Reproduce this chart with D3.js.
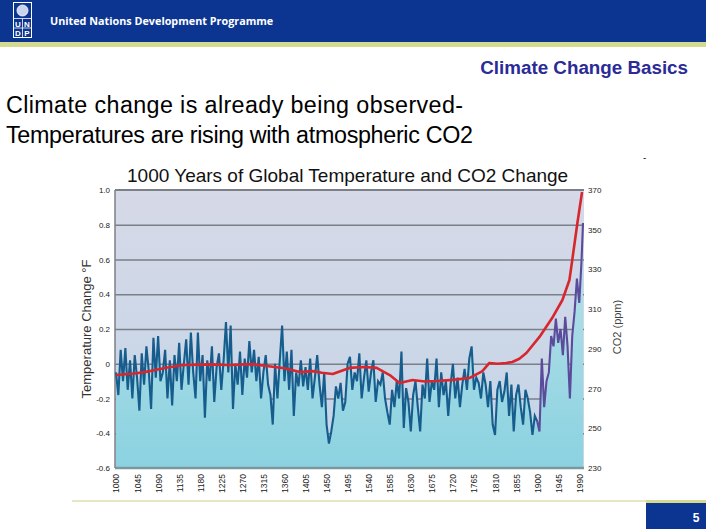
<!DOCTYPE html>
<html>
<head>
<meta charset="utf-8">
<script src="https://cdn.jsdelivr.net/npm/d3@7"></script>
<style>
  html, body { margin: 0; padding: 0; background: #ffffff; }
  svg { display: block; }
  text { font-family: "Liberation Sans", Arial, sans-serif; }
</style>
</head>
<body>
<svg id="chart" width="706" height="529"></svg>
<script>
// ---------------- DATA ----------------
const chartTitle = "1000 Years of Global Temperature and CO2 Change";
const tempTickValues = [1.0, 0.8, 0.6, 0.4, 0.2, 0, -0.2, -0.4, -0.6];
const tempTickLabels = ["1.0", "0.8", "0.6", "0.4", "0.2", "0", "-0.2", "-0.4", "-0.6"];
const gridValues = [0.8, 0.6, 0.4, 0.2, 0, -0.2, -0.4];
const co2TickValues = [370, 350, 330, 310, 290, 270, 250, 230];
const yearTickValues = [1000, 1045, 1090, 1135, 1180, 1225, 1270, 1315, 1360, 1405, 1450, 1495,
                        1540, 1585, 1630, 1675, 1720, 1765, 1810, 1855, 1900, 1945, 1990];

// proxy (reconstructed) temperature, every 5 years 1000..1900
const proxyTemp = [
  -0.05,-0.18,0.08,-0.1,0.09,-0.15,0.02,-0.2,0.05,-0.08,
  -0.27,0.06,-0.12,0.1,-0.04,-0.26,0.15,-0.08,0.16,-0.1,
  -0.05,0.08,-0.2,0.02,-0.24,0.05,-0.1,0.12,-0.15,0.0,
  0.14,-0.12,0.18,-0.05,-0.2,0.18,-0.1,0.05,-0.31,0.02,
  -0.1,0.1,-0.22,-0.02,0.06,-0.15,0.02,0.24,-0.05,0.22,
  -0.26,0.0,-0.12,0.07,-0.18,0.03,-0.08,0.13,-0.05,0.08,
  -0.1,0.04,-0.2,-0.05,0.05,-0.12,-0.18,-0.35,0.0,-0.2,
  0.02,0.22,-0.1,0.07,-0.15,0.08,-0.3,-0.05,-0.13,0.02,
  -0.13,-0.02,-0.15,0.03,-0.2,-0.08,0.05,-0.12,-0.25,-0.05,
  -0.35,-0.46,-0.39,-0.3,-0.13,-0.2,-0.11,-0.27,-0.22,0.0,
  0.04,-0.15,-0.05,-0.1,0.06,-0.2,-0.08,0.02,-0.16,-0.05,
  0.02,-0.22,-0.1,-0.12,-0.05,-0.2,-0.28,-0.35,-0.15,-0.25,
  -0.1,-0.2,0.07,-0.37,-0.14,-0.22,-0.39,-0.18,-0.1,-0.25,
  -0.39,-0.12,-0.2,0.03,-0.22,-0.1,-0.15,0.03,-0.25,-0.05,
  -0.18,-0.1,-0.3,-0.12,0.0,-0.2,-0.08,-0.25,-0.12,-0.03,
  -0.15,0.03,0.1,-0.15,-0.08,-0.11,-0.2,-0.05,-0.12,-0.25,
  -0.1,-0.35,-0.41,-0.15,-0.1,-0.22,-0.16,-0.05,-0.3,-0.12,
  -0.39,-0.18,-0.12,-0.25,-0.35,-0.15,-0.2,-0.28,-0.41,-0.3,
  -0.33
];
const proxyYears = d3.range(1000, 1901, 5);

// instrumental temperature
const instrYears = [1900,1905,1910,1915,1920,1925,1930,1935,1940,1945,1950,1955,1960,1965,1970,1975,1980,1985,1990,1995,1998];
const instrTemp  = [-0.33,-0.39,0.03,-0.25,-0.1,-0.05,0.16,0.1,0.26,0.12,0.2,0.05,0.27,0.1,-0.2,0.16,0.3,0.49,0.35,0.6,0.81];

// CO2 (ppm)
const co2Years = [1000,1040,1073,1110,1143,1200,1243,1290,1322,1360,1393,1420,1440,1463,1499,1530,1557,1585,1606,1634,1660,1685,1720,1755,1783,1798,1815,1834,1847,1862,1877,1905,1932,1954,1969,1975,1986,1996];
const co2Values = [276.8,277.6,278.8,280.6,281.9,282.2,281.9,282.3,281.4,280.2,278.3,278.8,278.0,277.3,280.4,280.9,280.4,276.8,272.8,274.3,273.6,273.8,274.4,275.3,278.8,282.9,282.5,282.9,283.4,285.0,287.9,296,305.5,314.6,324.7,334.7,353.4,369];

// ---------------- DRAW ----------------
const svg = d3.select("#chart");
const W = 706, H = 529;
const plot = { left: 115, right: 584, top: 190, bottom: 468 };

const defs = svg.append("defs");
const bgGrad = defs.append("linearGradient").attr("id", "bgGrad").attr("x1", 0).attr("y1", 0).attr("x2", 0).attr("y2", 1);
bgGrad.append("stop").attr("offset", "0%").attr("stop-color", "#d6d9e7");
bgGrad.append("stop").attr("offset", "100%").attr("stop-color", "#c3d5e7");
const fillGrad = defs.append("linearGradient").attr("id", "fillGrad")
  .attr("gradientUnits", "userSpaceOnUse").attr("x1", 0).attr("y1", plot.top).attr("x2", 0).attr("y2", plot.bottom);
fillGrad.append("stop").attr("offset", "0%").attr("stop-color", "#c2e3ec");
fillGrad.append("stop").attr("offset", "100%").attr("stop-color", "#8bd2e0");

// header
svg.append("rect").attr("x", 0).attr("y", 0).attr("width", W).attr("height", 42).attr("fill", "#0c3592");
svg.append("rect").attr("x", 0).attr("y", 42).attr("width", W).attr("height", 5).attr("fill", "#d6da8e");
const logo = svg.append("g");
logo.append("rect").attr("x", 13.5).attr("y", 2.5).attr("width", 18).attr("height", 35)
  .attr("fill", "none").attr("stroke", "#ffffff").attr("stroke-width", 1);
logo.append("circle").attr("cx", 22.5).attr("cy", 10.5).attr("r", 5.5).attr("fill", "#c9d4ee").attr("stroke", "#ffffff").attr("stroke-width", 0.8);
logo.append("line").attr("x1", 13.5).attr("x2", 31.5).attr("y1", 18.5).attr("y2", 18.5).attr("stroke", "#fff").attr("stroke-width", 0.8);
logo.append("line").attr("x1", 13.5).attr("x2", 31.5).attr("y1", 28).attr("y2", 28).attr("stroke", "#fff").attr("stroke-width", 0.8);
logo.append("line").attr("x1", 22.5).attr("x2", 22.5).attr("y1", 18.5).attr("y2", 37.5).attr("stroke", "#fff").attr("stroke-width", 0.8);
[["U", 18, 26.5], ["N", 27, 26.5], ["D", 18, 36], ["P", 27, 36]].forEach(d => {
  logo.append("text").attr("x", d[1]).attr("y", d[2]).attr("text-anchor", "middle")
    .attr("font-size", 8).attr("font-weight", "bold").attr("fill", "#ffffff").text(d[0]);
});
svg.append("text").attr("x", 50).attr("y", 25).attr("font-size", 10.8).attr("font-weight", "bold")
  .style("font-family", "'Open Sans', 'DejaVu Sans', sans-serif")
  .attr("fill", "#ffffff").text("United Nations Development Programme");

// slide texts
svg.append("text").attr("x", 688).attr("y", 74).attr("text-anchor", "end")
  .attr("font-size", 18.8).attr("font-weight", "bold").attr("fill", "#2b2b98").text("Climate Change Basics");
svg.append("text").attr("x", 6).attr("y", 113).attr("font-size", 23.3).attr("fill", "#000")
  .attr("textLength", 457).attr("lengthAdjust", "spacing").text("Climate change is already being observed-");
svg.append("text").attr("x", 6).attr("y", 143).attr("font-size", 23.3).attr("fill", "#000")
  .attr("textLength", 467).attr("lengthAdjust", "spacing").text("Temperatures are rising with atmospheric CO2");
svg.append("text").attr("x", 643).attr("y", 161).attr("font-size", 10).attr("fill", "#333").text("-");

// footer
svg.append("rect").attr("x", 72).attr("y", 500).attr("width", 574).attr("height", 2).attr("fill", "#e6e8c4");
svg.append("rect").attr("x", 646).attr("y", 500).attr("width", 60).attr("height", 3).attr("fill", "#d6da8e");
svg.append("rect").attr("x", 646).attr("y", 503).attr("width", 60).attr("height", 26).attr("fill", "#0c3592");
svg.append("text").attr("x", 696).attr("y", 522).attr("text-anchor", "middle").attr("font-size", 12)
  .attr("font-weight", "bold").attr("fill", "#ffffff").text("5");

// scales
const x = d3.scaleLinear().domain([1000, 1998]).range([116, 583]);
const yT = d3.scaleLinear().domain([-0.6, 1.0]).range([plot.bottom, plot.top]);
const yC = d3.scaleLinear().domain([230, 370]).range([plot.bottom, plot.top]);

// chart title
svg.append("text").attr("x", 127).attr("y", 181.5).attr("font-size", 19).attr("fill", "#111").text(chartTitle);

// plot background
svg.append("rect").attr("x", plot.left).attr("y", plot.top).attr("width", plot.right - plot.left)
  .attr("height", plot.bottom - plot.top).attr("fill", "url(#bgGrad)");

// gridlines
const grid = svg.append("g").attr("transform", `translate(${plot.left},0)`)
  .call(d3.axisLeft(yT).tickValues(gridValues).tickSize(-(plot.right - plot.left)).tickFormat(""));
grid.select(".domain").remove();
grid.selectAll("line").attr("stroke", "#7b7f88").attr("stroke-width", 1.6);

// temperature area fill
const allYears = proxyYears.concat(instrYears.slice(1));
const allTemp = proxyTemp.concat(instrTemp.slice(1));
const tempPts = allYears.map((yr, i) => [yr, allTemp[i]]);
svg.append("path").datum(tempPts)
  .attr("d", d3.area().x(d => x(d[0])).y0(plot.bottom).y1(d => yT(d[1])))
  .attr("fill", "url(#fillGrad)");

// borders
svg.append("line").attr("x1", plot.left).attr("x2", plot.right).attr("y1", plot.top).attr("y2", plot.top)
  .attr("stroke", "#7b7f88").attr("stroke-width", 2);
svg.append("line").attr("x1", plot.left).attr("x2", plot.right).attr("y1", plot.bottom).attr("y2", plot.bottom)
  .attr("stroke", "#7c979e").attr("stroke-width", 2.5);
svg.append("line").attr("x1", plot.left).attr("x2", plot.left).attr("y1", plot.top).attr("y2", plot.bottom)
  .attr("stroke", "#7b7f88").attr("stroke-width", 1.5);

// temperature lines
const tLine = d3.line().x(d => x(d[0])).y(d => yT(d[1]));
svg.append("path").datum(proxyYears.map((yr, i) => [yr, proxyTemp[i]]))
  .attr("d", tLine).attr("fill", "none").attr("stroke", "#165d8d").attr("stroke-width", 2.1);
svg.append("path").datum(instrYears.map((yr, i) => [yr, instrTemp[i]]))
  .attr("d", tLine).attr("fill", "none").attr("stroke", "#5a4b9b").attr("stroke-width", 2.1);

// CO2 line
svg.append("path").datum(co2Years.map((yr, i) => [yr, co2Values[i]]))
  .attr("d", d3.line().x(d => x(d[0])).y(d => yC(d[1])))
  .attr("fill", "none").attr("stroke", "#d8262e").attr("stroke-width", 2.6).attr("stroke-linejoin", "round");

// axes
const leftAxis = svg.append("g").attr("transform", `translate(${plot.left},0)`)
  .call(d3.axisLeft(yT).tickValues(tempTickValues).tickSize(0).tickPadding(5)
    .tickFormat((d, i) => tempTickLabels[i]));
leftAxis.select(".domain").remove();
leftAxis.selectAll("text").attr("font-size", 8).attr("fill", "#222").style("font-family", "'Liberation Sans', Arial, sans-serif");

const rightAxis = svg.append("g").attr("transform", `translate(${plot.right},0)`)
  .call(d3.axisRight(yC).tickValues(co2TickValues).tickSize(0).tickPadding(4));
rightAxis.select(".domain").remove();
rightAxis.selectAll("text").attr("font-size", 8).attr("fill", "#222").style("font-family", "'Liberation Sans', Arial, sans-serif");

const bottomAxis = svg.append("g").attr("transform", `translate(0,${plot.bottom})`)
  .call(d3.axisBottom(x).tickValues(yearTickValues).tickSize(0).tickFormat(d3.format("d")));
bottomAxis.select(".domain").remove();
bottomAxis.selectAll("text")
  .attr("transform", "rotate(-90)").attr("text-anchor", "end")
  .attr("x", -6).attr("y", 0).attr("dy", "0.35em")
  .attr("font-size", 8.5).attr("fill", "#222").style("font-family", "'Liberation Sans', Arial, sans-serif");

// axis titles
svg.append("text").attr("transform", "translate(90.5,329) rotate(-90)").attr("text-anchor", "middle")
  .attr("font-size", 13).attr("fill", "#333").text("Temperature Change °F");
svg.append("text").attr("transform", "translate(621,327) rotate(-90)").attr("text-anchor", "middle")
  .attr("font-size", 11).attr("fill", "#444").text("CO2 (ppm)");
</script>
</body>
</html>
